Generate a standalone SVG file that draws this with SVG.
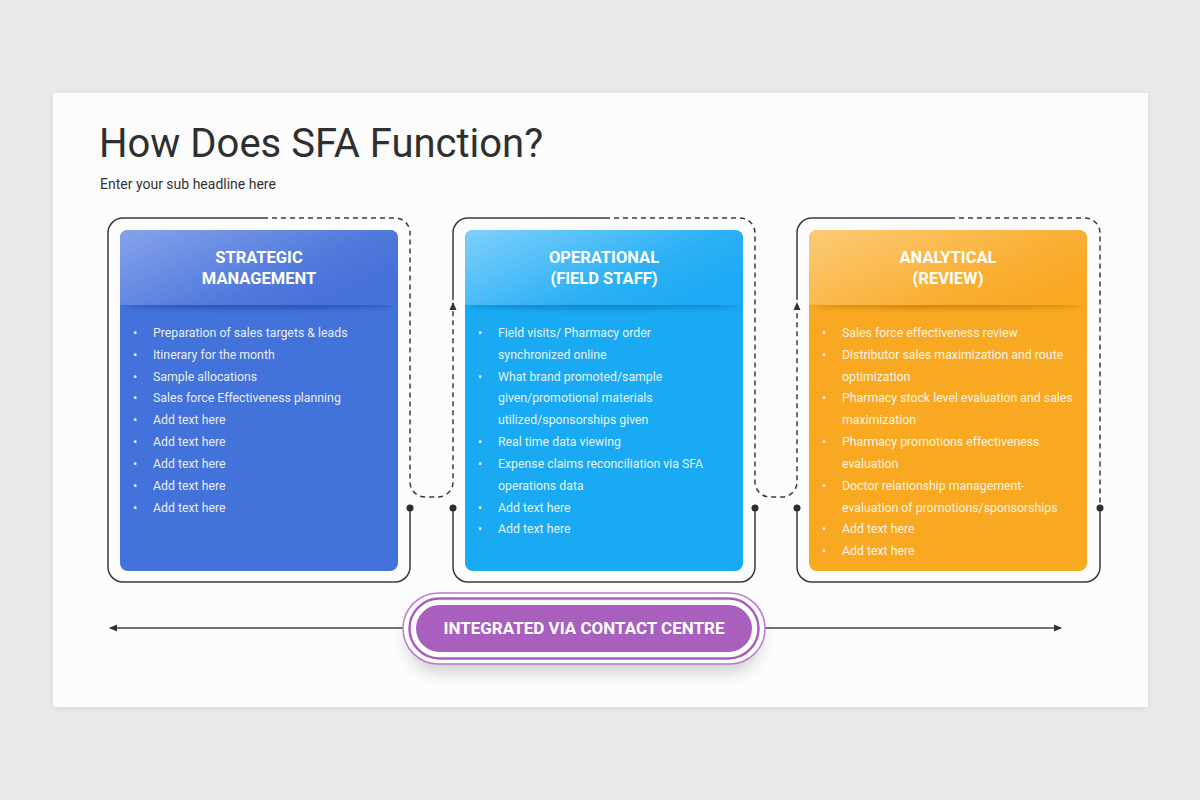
<svg xmlns="http://www.w3.org/2000/svg" width="1200" height="800" viewBox="0 0 1200 800">
<defs>
<style>
.title{font-family:Roboto,"Liberation Sans",sans-serif;font-size:40px;fill:#2f2f2f}
.sub{font-family:Roboto,"Liberation Sans",sans-serif;font-size:14px;fill:#333}
.head{font-family:Roboto,"Liberation Sans",sans-serif;font-size:16.5px;font-weight:bold;fill:#fff;text-anchor:middle}
.item{font-family:Roboto,"Liberation Sans",sans-serif;font-size:12.3px;fill:#fff;fill-opacity:0.9}
.solid{fill:none;stroke:#3a3a3a;stroke-width:1.5}
.dash{fill:none;stroke:#3a3a3a;stroke-width:1.5;stroke-dasharray:5 4}
.dot{fill:#2e2e2e}
.pilltxt{font-family:Roboto,"Liberation Sans",sans-serif;font-size:17px;font-weight:bold;fill:#fff;text-anchor:middle}
</style>
<linearGradient id="h1" x1="0" y1="0" x2="1" y2="0.6"><stop offset="0" stop-color="#86a2eb"/><stop offset="0.7" stop-color="#5079dc"/><stop offset="1" stop-color="#4670da"/></linearGradient>
<linearGradient id="h2" x1="0" y1="0" x2="1" y2="0.6"><stop offset="0" stop-color="#7fd0fb"/><stop offset="0.7" stop-color="#2cb0f5"/><stop offset="1" stop-color="#1eaaf4"/></linearGradient>
<linearGradient id="h3" x1="0" y1="0" x2="1" y2="0.6"><stop offset="0" stop-color="#fccb78"/><stop offset="0.7" stop-color="#fab036"/><stop offset="1" stop-color="#f9a824"/></linearGradient>
<filter id="blur" x="-20%" y="-200%" width="140%" height="500%"><feGaussianBlur stdDeviation="2.5"/></filter>
<filter id="sh" x="-20%" y="-50%" width="140%" height="220%"><feGaussianBlur stdDeviation="8"/></filter>
<filter id="slsh" x="-5%" y="-5%" width="110%" height="110%"><feGaussianBlur stdDeviation="3"/></filter>
<marker id="arr" markerWidth="8" markerHeight="8" refX="7" refY="4" orient="auto" markerUnits="userSpaceOnUse"><path d="M0,0.5 L8,4 L0,7.5 Z" fill="#333"/></marker>
<clipPath id="c1"><rect x="120" y="305" width="278" height="20"/></clipPath>
<clipPath id="c2"><rect x="465" y="305" width="278" height="20"/></clipPath>
<clipPath id="c3"><rect x="809" y="305" width="278" height="20"/></clipPath>
</defs>
<rect width="1200" height="800" fill="#ebe9eb"/>
<rect x="53" y="94" width="1095" height="614" fill="#000" opacity="0.08" filter="url(#slsh)"/>
<rect x="53" y="93" width="1095" height="614" fill="#fcfcfc"/>
<text class="title" x="99" y="157">How Does SFA Function?</text>
<text class="sub" x="100" y="189">Enter your sub headline here</text>

<g id="connectors">
<path class="solid" d="M410,508 V567 A15,15 0 0 1 395,582 H123 A15,15 0 0 1 108,567 V233 A15,15 0 0 1 123,218 H263"/>
<path class="dash" d="M263,218 H395 A15,15 0 0 1 410,233 V482 A15,15 0 0 0 425,497 H438 A15,15 0 0 0 453,482 V303" marker-end="url(#arr)"/>
<path class="solid" d="M453,300 V233 A15,15 0 0 1 468,218 H605"/>
<path class="dash" d="M605,218 H740 A15,15 0 0 1 755,233 V482 A15,15 0 0 0 770,497 H782 A15,15 0 0 0 797,482 V303" marker-end="url(#arr)"/>
<path class="solid" d="M755,508 V567 A15,15 0 0 1 740,582 H468 A15,15 0 0 1 453,567 V508"/>
<path class="solid" d="M797,300 V233 A15,15 0 0 1 812,218 H950"/>
<path class="dash" d="M950,218 H1085 A15,15 0 0 1 1100,233 V508"/>
<path class="solid" d="M1100,508 V567 A15,15 0 0 1 1085,582 H812 A15,15 0 0 1 797,567 V508"/>
<circle class="dot" cx="410" cy="508" r="3.5"/>
<circle class="dot" cx="453" cy="508" r="3.5"/>
<circle class="dot" cx="755" cy="508" r="3.5"/>
<circle class="dot" cx="797" cy="508" r="3.5"/>
<circle class="dot" cx="1100" cy="508" r="3.5"/>
<path d="M405,628 H110" stroke="#444" stroke-width="1.5" marker-end="url(#arr)"/>
<path d="M763,628 H1061" stroke="#444" stroke-width="1.5" marker-end="url(#arr)"/>
</g>

<g id="card-strategic">
<rect x="120" y="230" width="278" height="341" rx="8" fill="#4472db"/>
<path d="M128,230 H390 A8,8 0 0 1 398,238 V305 H120 V238 A8,8 0 0 1 128,230 Z" fill="url(#h1)"/>
<g clip-path="url(#c1)"><ellipse cx="259" cy="305" rx="135" ry="4" fill="#1f3f9a" opacity="0.6" filter="url(#blur)"/></g>
<text class="head" x="259" y="263">STRATEGIC</text>
<text class="head" x="259" y="284">MANAGEMENT</text>
<g class="item">
<text x="133" y="337">•</text><text x="153" y="337">Preparation of sales targets &amp; leads</text>
<text x="133" y="359">•</text><text x="153" y="359">Itinerary for the month</text>
<text x="133" y="381">•</text><text x="153" y="381">Sample allocations</text>
<text x="133" y="402">•</text><text x="153" y="402">Sales force Effectiveness planning</text>
<text x="133" y="424">•</text><text x="153" y="424">Add text here</text>
<text x="133" y="446">•</text><text x="153" y="446">Add text here</text>
<text x="133" y="468">•</text><text x="153" y="468">Add text here</text>
<text x="133" y="490">•</text><text x="153" y="490">Add text here</text>
<text x="133" y="512">•</text><text x="153" y="512">Add text here</text>
</g>
</g>

<g id="card-operational">
<rect x="465" y="230" width="278" height="341" rx="8" fill="#1aa9f3"/>
<path d="M473,230 H735 A8,8 0 0 1 743,238 V305 H465 V238 A8,8 0 0 1 473,230 Z" fill="url(#h2)"/>
<g clip-path="url(#c2)"><ellipse cx="604" cy="305" rx="135" ry="4" fill="#0a6fae" opacity="0.6" filter="url(#blur)"/></g>
<text class="head" x="604" y="263">OPERATIONAL</text>
<text class="head" x="604" y="284">(FIELD STAFF)</text>
<g class="item">
<text x="478" y="337">•</text><text x="498" y="337">Field visits/ Pharmacy order</text>
<text x="498" y="359">synchronized online</text>
<text x="478" y="381">•</text><text x="498" y="381">What brand promoted/sample</text>
<text x="498" y="402">given/promotional materials</text>
<text x="498" y="424">utilized/sponsorships given</text>
<text x="478" y="446">•</text><text x="498" y="446">Real time data viewing</text>
<text x="478" y="468">•</text><text x="498" y="468">Expense claims reconciliation via SFA</text>
<text x="498" y="490">operations data</text>
<text x="478" y="512">•</text><text x="498" y="512">Add text here</text>
<text x="478" y="533">•</text><text x="498" y="533">Add text here</text>
</g>
</g>

<g id="card-analytical">
<rect x="809" y="230" width="278" height="341" rx="8" fill="#f9a822"/>
<path d="M817,230 H1079 A8,8 0 0 1 1087,238 V305 H809 V238 A8,8 0 0 1 817,230 Z" fill="url(#h3)"/>
<g clip-path="url(#c3)"><ellipse cx="948" cy="305" rx="135" ry="4" fill="#b86e00" opacity="0.55" filter="url(#blur)"/></g>
<text class="head" x="948" y="263">ANALYTICAL</text>
<text class="head" x="948" y="284">(REVIEW)</text>
<g class="item">
<text x="822" y="337">•</text><text x="842" y="337">Sales force effectiveness review</text>
<text x="822" y="359">•</text><text x="842" y="359">Distributor sales maximization and route</text>
<text x="842" y="381">optimization</text>
<text x="822" y="402">•</text><text x="842" y="402">Pharmacy stock level evaluation and sales</text>
<text x="842" y="424">maximization</text>
<text x="822" y="446">•</text><text x="842" y="446">Pharmacy promotions effectiveness</text>
<text x="842" y="468">evaluation</text>
<text x="822" y="490">•</text><text x="842" y="490">Doctor relationship management-</text>
<text x="842" y="512">evaluation of promotions/sponsorships</text>
<text x="822" y="533">•</text><text x="842" y="533">Add text here</text>
<text x="822" y="555">•</text><text x="842" y="555">Add text here</text>
</g>
</g>

<g id="node-contact-centre">
<rect x="408" y="608" width="352" height="64" rx="32" fill="#000" opacity="0.18" filter="url(#sh)"/>
<rect x="403" y="593" width="362" height="71" rx="35.5" fill="#fff" stroke="#b77ccb" stroke-width="1.5"/>
<rect x="409.5" y="598.5" width="349" height="60" rx="30" fill="#fff" stroke="#a95fbd" stroke-width="2.5"/>
<rect x="416" y="605" width="336" height="47" rx="23.5" fill="#a95fbd"/>
<text class="pilltxt" x="584" y="634">INTEGRATED VIA CONTACT CENTRE</text>
</g>
</svg>
